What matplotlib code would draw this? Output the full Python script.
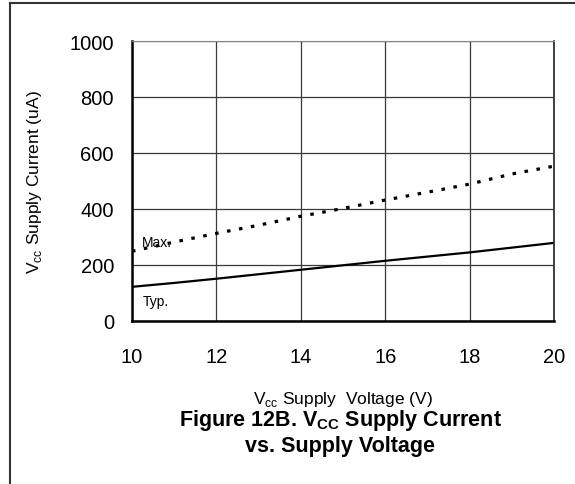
import matplotlib
matplotlib.use('Agg')
import matplotlib.pyplot as plt
from matplotlib.lines import Line2D

plt.rcParams['font.family'] = ['Liberation Sans', 'DejaVu Sans']

# supply voltage (V)
voltage = [10, 11, 12, 13, 14, 15, 16, 17, 18, 19, 20]
# current readings (uA)
typ_current = [122, 136, 151, 167, 183, 199, 215, 230, 245, 262, 279]
max_current = [249, 282, 313, 342, 374, 402, 432, 460, 489, 525, 553]

x_ticks = [10, 12, 14, 16, 18, 20]
y_ticks = [0, 200, 400, 600, 800, 1000]

fig = plt.figure(figsize=(5.75, 4.85), dpi=100)
ax = fig.add_axes([132 / 575, 1 - 322 / 485, 422 / 575, 280 / 485])

# outer frame of the figure box (only left and top edges show)
fx, fy = 9.5 / 575, 1 - 4 / 485
fig.lines.append(Line2D([fx, fx], [0, fy], transform=fig.transFigure,
                        color='#333333', linewidth=1.5))
fig.lines.append(Line2D([fx, 1], [fy, fy], transform=fig.transFigure,
                        color='#333333', linewidth=1.5))

ax.plot(voltage, typ_current, color='black', linewidth=1.6)
ax.plot(voltage, max_current, color='black', linewidth=2.3,
        linestyle=(0, (1.1, 2.7)))

ax.set_xlim(10, 20)
ax.set_ylim(0, 1000)
ax.set_xticks(x_ticks)
ax.set_yticks(y_ticks)
ax.grid(True, color='#3a3a3a', linewidth=0.9)
ax.set_axisbelow(True)
ax.tick_params(length=0, labelsize=14.5)
ax.tick_params(axis='y', pad=13)
ax.tick_params(axis='x', pad=19)

ax.spines['left'].set_linewidth(1.8)
ax.spines['bottom'].set_linewidth(1.8)
ax.spines['top'].set_color('#888888')
ax.spines['right'].set_color('#222222')
ax.spines['right'].set_linewidth(1.2)

ax.text(10.24, 282, 'Max.', fontsize=10, va='center', ha='left')
ax.text(10.26, 70, 'Typ.', fontsize=10, va='center', ha='left')

ax.set_ylabel('V$_{\\mathregular{cc}}$ Supply Current (uA)', fontsize=12.5, labelpad=18)

cx = (132 + 554) / 2 / 575
fig.text(cx, 1 - 400 / 485, 'V$_{\\mathregular{cc}}$ Supply  Voltage (V)',
         ha='center', va='center', fontsize=12.5)
fig.text(cx - 0.005, 1 - 421 / 485, 'Figure 12B. V$_{\\mathregular{CC}}$ Supply Current',
         ha='center', va='center', fontsize=15.5, fontweight='bold')
fig.text(cx - 0.005, 1 - 447 / 485, 'vs. Supply Voltage',
         ha='center', va='center', fontsize=15.5, fontweight='bold')

fig.savefig('out.png', dpi=100)
